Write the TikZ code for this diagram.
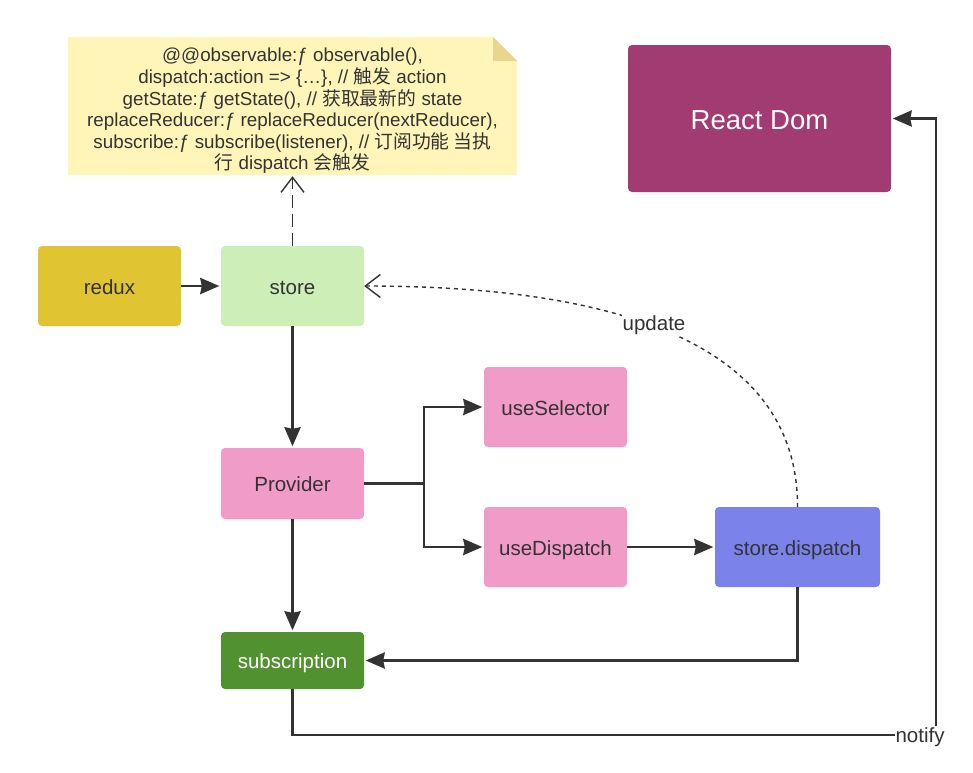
\documentclass[tikz,border=0pt]{standalone}
\usepackage{fontspec}
\setmainfont{Liberation Sans}
\newfontfamily\cjk{Noto Sans CJK SC}
\usetikzlibrary{arrows.meta}
\definecolor{ink}{HTML}{333333}
\definecolor{notefill}{HTML}{FFF5B8}
\definecolor{foldc}{HTML}{E9D68E}
\definecolor{reactc}{HTML}{A23B72}
\definecolor{reduxc}{HTML}{E0C431}
\definecolor{storec}{HTML}{CDEEB6}
\definecolor{pinkc}{HTML}{F19BC9}
\definecolor{bluec}{HTML}{7B83EB}
\definecolor{greenc}{HTML}{529130}
\begin{document}
\begin{tikzpicture}[x=1pt,y=-1pt,
  box/.style={rectangle, rounded corners=4pt, minimum width=143pt, minimum height=80pt, inner sep=0pt, text=ink, text height=16pt, text depth=0pt, font=\fontsize{20.5}{24}\selectfont},
  arr/.style={draw=ink, line width=2.9pt, shorten >=1.5pt, -{Stealth[length=19pt,width=16pt,inset=1.5pt]}},
  openarr/.style={draw=ink, line width=1.4pt, -{Straight Barb[length=15pt,width=23pt,line width=1.4pt]}},
  lbl/.style={fill=white, inner sep=1pt, text=ink, font=\fontsize{20.5}{24}\selectfont}]
\useasboundingbox (0,0) rectangle (973,772);
% note
\fill[notefill] (68,37) -- (493,37) -- (517,61) -- (517,175) -- (68,175) -- cycle;
\fill[foldc] (493,37) -- (493,61) -- (517,61) -- cycle;
\node[minimum width=449pt, minimum height=130pt, inner sep=0pt, align=center, text=ink,
      font=\fontsize{18.8}{21.6}\selectfont] (note) at (292.5,111)
  {@@observable:ƒ observable(),\\
   dispatch:action => \{…\}, // {\cjk 触发} action\\
   getState:ƒ getState(), // {\cjk 获取最新的} state\\
   replaceReducer:ƒ replaceReducer(nextReducer),\\
   subscribe:ƒ subscribe(listener), // {\cjk 订阅功能 当执}\\
   {\cjk 行} dispatch {\cjk 会触发}};
% nodes
\node[box, fill=reactc, text=white, minimum width=263pt, minimum height=147pt, text height=21pt, font=\fontsize{27.5}{32}\selectfont] (react) at (759.5,118.5) {React Dom};
\node[box, fill=reduxc] (redux) at (109.5,286) {redux};
\node[box, fill=storec] (store) at (292.5,286) {store};
\node[box, fill=pinkc, minimum height=71pt] (prov) at (292.5,483.5) {Provider};
\node[box, fill=pinkc] (usel) at (555.5,407) {useSelector};
\node[box, fill=pinkc] (used) at (555.5,547) {useDispatch};
\node[box, fill=bluec, minimum width=165pt] (sd) at (797.5,547) {store.dispatch};
\node[box, fill=greenc, text=white, minimum height=57pt] (sub) at (292.5,660.5) {subscription};
% connectors
\coordinate (split) at (424,483.5);
\coordinate (nt) at (936,735);
\draw[arr] (redux) -- (store);
\draw[arr] (store) -- (prov);
\draw[arr] (prov) -- (sub);
\draw[draw=ink, line width=2.9pt] (prov.east) -- (split);
\draw[arr] (split) |- (usel.west);
\draw[arr] (split) |- (used.west);
\draw[arr] (used) -- (sd);
\draw[arr] (sd.south) |- (sub.east);
\draw[arr] (sub.south) |- (nt) |- (react.east);
\node[lbl] (notify) at (920,737) {notify};
\draw[openarr, dash pattern=on 13pt off 6pt] (store.north) -- (note.south);
\draw[openarr, dash pattern=on 4pt off 4pt] (sd.north) .. controls (798,320) and (560,286) .. (store.east);
\node[lbl] (upd) at (654,325) {update};
\end{tikzpicture}
\end{document}
